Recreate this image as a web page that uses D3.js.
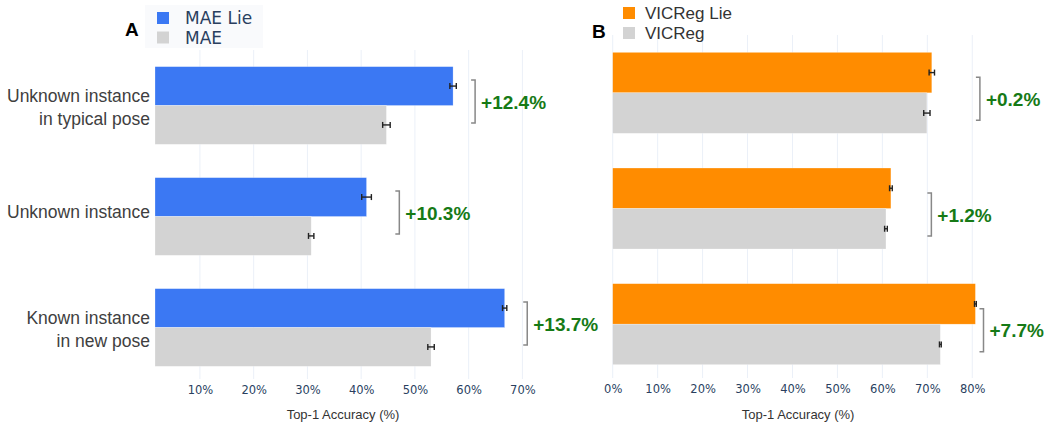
<!DOCTYPE html>
<html>
<head>
<meta charset="utf-8">
<script src="https://cdn.jsdelivr.net/npm/d3@7"></script>
<style>
  body { margin: 0; background: #fff; }
  svg { display: block; }
</style>
</head>
<body>
<div id="chart"></div>
<script>
// categories (top to bottom)
const categories = ["Unknown instance in typical pose", "Unknown instance", "Known instance in new pose"];
const categoryLines = [["Unknown instance", "in typical pose"], ["Unknown instance"], ["Known instance", "in new pose"]];

// panel A: MAE
const maeLie = [57.1, 41.0, 66.7];
const maeLieErr = [0.6, 0.9, 0.4];
const mae = [44.7, 30.7, 53.0];
const maeErr = [0.7, 0.5, 0.6];
const gainsA = ["+12.4%", "+10.3%", "+13.7%"];
const bracketA = [61.2, 47.1, 70.9];   // bracket position, % accuracy
const ticksA = [10, 20, 30, 40, 50, 60, 70];

// panel B: VICReg
const vicregLie = [71.0, 61.9, 80.7];
const vicregLieErr = [0.6, 0.3, 0.2];
const vicreg = [69.9, 60.8, 72.9];
const vicregErr = [0.7, 0.3, 0.2];
const gainsB = ["+0.2%", "+1.2%", "+7.7%"];
const bracketB = [81.7, 70.9, 82.5];
const ticksB = [0, 10, 20, 30, 40, 50, 60, 70, 80];

const W = 1051, H = 425;
const svg = d3.select("#chart").append("svg")
  .attr("width", W)
  .attr("height", H);

const tickFont = "'DejaVu Sans', Verdana, sans-serif";
const helv = "'Liberation Sans', Arial, Helvetica, sans-serif";

function draw_panel(opt) {
  const x = d3.scaleLinear().domain(opt.domain).range(opt.xRange);
  const y = d3.scaleBand()
    .domain(categories)
    .range(opt.yRange)
    .paddingInner(0.3)
    .paddingOuter(0.15);
  const sub = d3.scaleBand().domain(["lie", "base"]).range([0, y.bandwidth()]);

  const g = svg.append("g");

  // gridlines
  g.append("g").selectAll("line")
    .data(opt.ticks)
    .join("line")
    .attr("x1", d => x(d)).attr("x2", d => x(d))
    .attr("y1", opt.yRange[0]).attr("y2", opt.yRange[1] - 4)
    .attr("stroke", "#ebf0f8")
    .attr("stroke-width", 1);

  // x axis (labels only)
  const ax = g.append("g")
    .attr("transform", `translate(0, ${opt.yRange[1] - 4})`)
    .call(d3.axisBottom(x).tickValues(opt.ticks).tickSize(0).tickFormat(d => d + "%").tickPadding(7));
  ax.select(".domain").remove();
  ax.selectAll("text")
    .attr("font-family", tickFont)
    .attr("font-size", 11.5)
    .attr("fill", "#2a3f5f");

  svg.append("text")
    .attr("x", (opt.xRange[0] + opt.xRange[1]) / 2)
    .attr("y", 419)
    .attr("text-anchor", "middle")
    .attr("font-family", helv)
    .attr("font-size", 13)
    .attr("fill", "#333")
    .text("Top-1 Accuracy (%)");

  const rows = categories.map((c, i) => ({
    c, i,
    lie: opt.lie[i], lieErr: opt.lieErr[i],
    base: opt.base[i], baseErr: opt.baseErr[i]
  }));

  const x0 = x(opt.domain[0]);
  const bars = [];
  rows.forEach(r => {
    bars.push({c: r.c, key: "lie", v: r.lie, e: r.lieErr, color: opt.color});
    bars.push({c: r.c, key: "base", v: r.base, e: r.baseErr, color: "#d3d3d3"});
  });

  g.append("g").selectAll("rect")
    .data(bars)
    .join("rect")
    .attr("x", x0)
    .attr("y", d => y(d.c) + sub(d.key))
    .attr("width", d => x(d.v) - x0)
    .attr("height", sub.bandwidth())
    .attr("fill", d => d.color)
    .attr("stroke", "rgba(255,255,255,0.5)")
    .attr("stroke-width", 0.5);

  // error bars
  const eb = g.append("g").selectAll("g")
    .data(bars)
    .join("g")
    .attr("stroke", "#222")
    .attr("stroke-width", 1.4);
  eb.append("line")
    .attr("x1", d => x(d.v - d.e)).attr("x2", d => x(d.v + d.e))
    .attr("y1", d => y(d.c) + sub(d.key) + sub.bandwidth() / 2)
    .attr("y2", d => y(d.c) + sub(d.key) + sub.bandwidth() / 2);
  [-1, 1].forEach(s => {
    eb.append("line")
      .attr("x1", d => x(d.v + s * d.e)).attr("x2", d => x(d.v + s * d.e))
      .attr("y1", d => y(d.c) + sub(d.key) + sub.bandwidth() / 2 - 3)
      .attr("y2", d => y(d.c) + sub(d.key) + sub.bandwidth() / 2 + 3);
  });

  // gain brackets and labels
  const bh = 43;
  rows.forEach(r => {
    const bx = x(opt.bracket[r.i]);
    const cy = y(r.c) + y.bandwidth() / 2 + opt.bracketShift;
    g.append("path")
      .attr("d", `M${bx - 4},${cy - bh / 2}H${bx}V${cy + bh / 2}H${bx - 4}`)
      .attr("fill", "none")
      .attr("stroke", "#888")
      .attr("stroke-width", 1.5);
    g.append("text")
      .attr("x", bx + 6)
      .attr("y", cy + 7)
      .attr("font-family", helv)
      .attr("font-weight", "bold")
      .attr("font-size", 19)
      .attr("fill", "#167a16")
      .text(opt.gains[r.i]);
  });

  return y;
}

// ---- Panel A ----
const yA = draw_panel({
  domain: [1.64, 71.6], xRange: [155, 531], yRange: [50, 383],
  ticks: ticksA, lie: maeLie, lieErr: maeLieErr, base: mae, baseErr: maeErr,
  color: "#3b78f3", gains: gainsA, bracket: bracketA, bracketShift: -4
});

// category labels
categories.forEach((c, i) => {
  const lines = categoryLines[i];
  const cy = yA(c) + yA.bandwidth() / 2;
  const t = svg.append("text")
    .attr("text-anchor", "end")
    .attr("font-family", helv)
    .attr("font-size", 17.5)
    .attr("fill", "#404040");
  lines.forEach((l, k) => {
    const off = lines.length > 1 ? 8 : 1;
    t.append("tspan")
      .attr("x", 150)
      .attr("y", cy + off + (k - (lines.length - 1) / 2) * 23)
      .text(l);
  });
});

// legend A
svg.append("rect").attr("x", 145).attr("y", 5).attr("width", 118).attr("height", 43).attr("fill", "#f9fafc");
const legA = [{name: "MAE Lie", color: "#3b78f3"}, {name: "MAE", color: "#d3d3d3"}];
legA.forEach((d, i) => {
  svg.append("rect").attr("x", 157).attr("y", 12 + i * 19.5).attr("width", 12).attr("height", 12).attr("fill", d.color);
  svg.append("text").attr("x", 185).attr("y", 24 + i * 19.5)
    .attr("font-family", tickFont).attr("font-size", 17).attr("fill", "#2a3f5f").text(d.name);
});
svg.append("text").attr("x", 125).attr("y", 36)
  .attr("font-family", helv).attr("font-weight", "bold").attr("font-size", 19).attr("fill", "#000").text("A");

// ---- Panel B ----
draw_panel({
  domain: [0, 82.5], xRange: [612.7, 983.5], yRange: [35, 382],
  ticks: ticksB, lie: vicregLie, lieErr: vicregLieErr, base: vicreg, baseErr: vicregErr,
  color: "#ff8c00", gains: gainsB, bracket: bracketB, bracketShift: 6
});

const legB = [{name: "VICReg Lie", color: "#ff8c00"}, {name: "VICReg", color: "#d3d3d3"}];
legB.forEach((d, i) => {
  svg.append("rect").attr("x", 623).attr("y", 7 + i * 20).attr("width", 12).attr("height", 12).attr("fill", d.color);
  svg.append("text").attr("x", 645).attr("y", 19 + i * 20)
    .attr("font-family", helv).attr("font-size", 17).attr("fill", "#333").text(d.name);
});
svg.append("text").attr("x", 592).attr("y", 38)
  .attr("font-family", helv).attr("font-weight", "bold").attr("font-size", 19).attr("fill", "#000").text("B");
</script>
</body>
</html>
